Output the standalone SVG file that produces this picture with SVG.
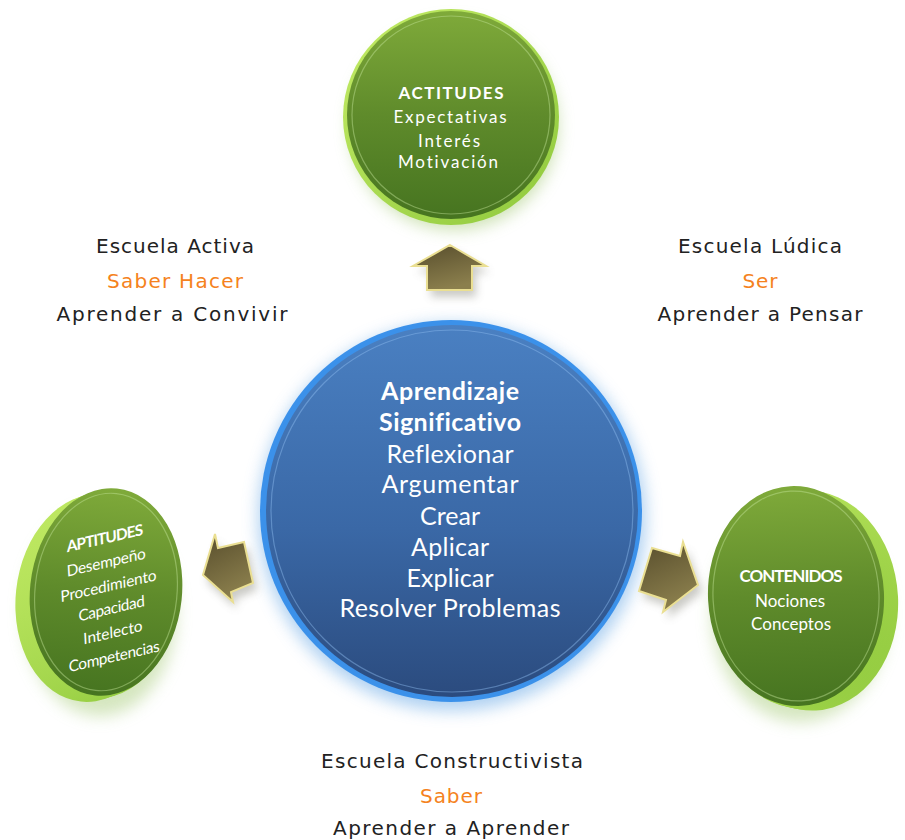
<svg xmlns="http://www.w3.org/2000/svg" width="905" height="840" viewBox="0 0 905 840">
  <defs>
    <linearGradient id="greenFace" x1="0" y1="0" x2="0" y2="1">
      <stop offset="0" stop-color="#7faa3a"/>
      <stop offset="0.5" stop-color="#5f8b2b"/>
      <stop offset="1" stop-color="#467420"/>
    </linearGradient>
    <linearGradient id="lime" x1="0" y1="0" x2="1" y2="1">
      <stop offset="0" stop-color="#c4ec66"/>
      <stop offset="1" stop-color="#8ec83c"/>
    </linearGradient>
    <linearGradient id="blueFace" x1="0" y1="0" x2="0" y2="1">
      <stop offset="0" stop-color="#4a80c2"/>
      <stop offset="0.55" stop-color="#3a68a6"/>
      <stop offset="1" stop-color="#2b4b7e"/>
    </linearGradient>
    <linearGradient id="arrowFill" x1="0" y1="0" x2="0.4" y2="1">
      <stop offset="0" stop-color="#574d2c"/>
      <stop offset="1" stop-color="#8b7f4d"/>
    </linearGradient>
    <filter id="soft" x="-30%" y="-30%" width="160%" height="160%">
      <feGaussianBlur stdDeviation="8"/>
    </filter>
    <filter id="softSmall" x="-40%" y="-40%" width="180%" height="180%">
      <feGaussianBlur stdDeviation="4"/>
    </filter>
    <style>
      .face { font-family: Lato, "Open Sans", sans-serif; fill: #ffffff; text-anchor: middle; font-variant-ligatures: none; font-feature-settings: "liga" 0, "clig" 0; }
      .bold { font-weight: bold; }
      .side { font-family: "DejaVu Sans", Verdana, sans-serif; font-size: 20px; fill: #222222; text-anchor: middle; }
      .accent { fill: #f58220; }
      .arrow { fill: url(#arrowFill); stroke: #eadf92; stroke-width: 2; stroke-linejoin: miter; }
      .arrowShadow { fill: #8a8a80; opacity: 0.45; }
      .innerRing { fill: none; stroke: #c4e49a; stroke-opacity: 0.45; stroke-width: 1.2; }
    </style>
  </defs>

  <rect width="905" height="840" fill="#ffffff"/>

  <!-- top node: Actitudes -->
  <g id="actitudes">
    <circle cx="454" cy="126" r="104" fill="#b9d696" opacity="0.7" filter="url(#soft)"/>
    <circle cx="451" cy="117" r="108" fill="url(#lime)"/>
    <circle cx="451" cy="115" r="104" fill="url(#greenFace)"/>
    <circle cx="451" cy="115" r="99" class="innerRing"/>
    <text class="face bold" x="451" y="99" font-size="17" textLength="105" lengthAdjust="spacing">ACTITUDES</text>
    <text class="face" x="450" y="123" font-size="17" textLength="113" lengthAdjust="spacing">Expectativas</text>
    <text class="face" x="449" y="147" font-size="17" textLength="62" lengthAdjust="spacing">Interés</text>
    <text class="face" x="448" y="168" font-size="17" textLength="100" lengthAdjust="spacing">Motivación</text>
  </g>

  <!-- centre node: Aprendizaje Significativo -->
  <g id="aprendizaje">
    <circle cx="452" cy="517" r="194" fill="#9cc6ee" opacity="0.8" filter="url(#soft)"/>
    <circle cx="451" cy="511" r="191" fill="#3b91ea"/>
    <circle cx="452" cy="511" r="186" fill="url(#blueFace)"/>
    <circle cx="452" cy="511" r="181" fill="none" stroke="#8fbdf0" stroke-opacity="0.45" stroke-width="1.2"/>
    <text class="face bold" x="450" y="400" font-size="25" textLength="138" lengthAdjust="spacing">Aprendizaje</text>
    <text class="face bold" x="450" y="431" font-size="25" textLength="142" lengthAdjust="spacing">Significativo</text>
    <text class="face" x="450" y="463" font-size="25" textLength="127" lengthAdjust="spacing">Reflexionar</text>
    <text class="face" x="450" y="493" font-size="25" textLength="137" lengthAdjust="spacing">Argumentar</text>
    <text class="face" x="450" y="525" font-size="25" textLength="60" lengthAdjust="spacing">Crear</text>
    <text class="face" x="450" y="556" font-size="25" textLength="78" lengthAdjust="spacing">Aplicar</text>
    <text class="face" x="450" y="587" font-size="25" textLength="87" lengthAdjust="spacing">Explicar</text>
    <text class="face" x="450" y="617" font-size="25" textLength="221" lengthAdjust="spacing">Resolver Problemas</text>
  </g>

  <!-- left node: Aptitudes (disc seen at an angle) -->
  <g id="aptitudes">
    <ellipse cx="100" cy="612" rx="76" ry="104" fill="#c3dca4" opacity="0.7" filter="url(#soft)"/>
    <g fill="url(#lime)" transform="rotate(6 100 596)">
      <ellipse cx="92" cy="599" rx="76" ry="104"/>
      <ellipse cx="96" cy="597" rx="76" ry="104"/>
      <ellipse cx="100" cy="595" rx="76" ry="104"/>
      <ellipse cx="103" cy="594" rx="76" ry="104"/>
    </g>
    <ellipse cx="106" cy="592" rx="76" ry="104" fill="url(#greenFace)" transform="rotate(6 106 592)"/>
    <ellipse cx="106" cy="592" rx="71" ry="99" class="innerRing" transform="rotate(6 106 592)"/>
    <g transform="translate(110 597) rotate(-3) skewY(-10)">
      <text class="face bold" x="-2" y="-54" font-size="15.5" textLength="77" lengthAdjust="spacing">APTITUDES</text>
      <text class="face" x="-2" y="-30" font-size="15.5" textLength="80" lengthAdjust="spacing">Desempeño</text>
      <text class="face" x="-1" y="-6" font-size="15.5" textLength="97" lengthAdjust="spacing">Procedimiento</text>
      <text class="face" x="1" y="17" font-size="15.5" textLength="67" lengthAdjust="spacing">Capacidad</text>
      <text class="face" x="1" y="41" font-size="15.5" textLength="60" lengthAdjust="spacing">Intelecto</text>
      <text class="face" x="1" y="65" font-size="15.5" textLength="92" lengthAdjust="spacing">Competencias</text>
    </g>
  </g>

  <!-- right node: Contenidos (disc seen at an angle) -->
  <g id="contenidos">
    <ellipse cx="800" cy="614" rx="88" ry="108" fill="#c3dca4" opacity="0.7" filter="url(#soft)"/>
    <g fill="url(#lime)" transform="rotate(-3 803 599)">
      <ellipse cx="810" cy="601" rx="88" ry="110"/>
      <ellipse cx="806" cy="600" rx="88" ry="110"/>
      <ellipse cx="802" cy="599" rx="88" ry="110"/>
      <ellipse cx="799" cy="598" rx="88" ry="110"/>
    </g>
    <ellipse cx="796" cy="596" rx="88" ry="110" fill="url(#greenFace)" transform="rotate(-3 796 596)"/>
    <ellipse cx="796" cy="596" rx="83" ry="105" class="innerRing" transform="rotate(-3 796 596)"/>
    <text class="face bold" x="791" y="582" font-size="17" textLength="103" lengthAdjust="spacing">CONTENIDOS</text>
    <text class="face" x="790" y="607" font-size="17" textLength="70" lengthAdjust="spacing">Nociones</text>
    <text class="face" x="791" y="630" font-size="17" textLength="80" lengthAdjust="spacing">Conceptos</text>
  </g>

  <!-- connectors: block arrows leaving the centre node -->
  <g id="connectors">
    <polygon class="arrowShadow" filter="url(#softSmall)" points="454,252 490,273 476,273 476,297 431,297 431,273 417,273"/>
    <polygon class="arrow" points="450,245 486,266 472,266 472,290 427,290 427,266 413,266"/>

    <polygon class="arrowShadow" filter="url(#softSmall)" points="219,541 222,555 248,549 257,590 235,599 237,609 207,582"/>
    <polygon class="arrow" points="215,534 218,548 244,542 253,583 231,592 233,602 203,575"/>

    <polygon class="arrowShadow" filter="url(#softSmall)" points="656,555 684,563 687,549 702,592 667,619 670,607 643,598"/>
    <polygon class="arrow" points="652,548 680,556 683,542 698,585 663,612 666,600 639,591"/>
  </g>

  <!-- school labels -->
  <g id="label-activa">
    <text class="side" x="175" y="253" textLength="158" lengthAdjust="spacing">Escuela Activa</text>
    <text class="side accent" x="175" y="288" textLength="136" lengthAdjust="spacing">Saber Hacer</text>
    <text class="side" x="172" y="321" textLength="231" lengthAdjust="spacing">Aprender a Convivir</text>
  </g>
  <g id="label-ludica">
    <text class="side" x="760" y="253" textLength="164" lengthAdjust="spacing">Escuela Lúdica</text>
    <text class="side accent" x="760" y="288" textLength="35" lengthAdjust="spacing">Ser</text>
    <text class="side" x="760" y="321" textLength="205" lengthAdjust="spacing">Aprender a Pensar</text>
  </g>
  <g id="label-constructivista">
    <text class="side" x="452" y="768" textLength="262" lengthAdjust="spacing">Escuela Constructivista</text>
    <text class="side accent" x="451" y="803" textLength="62" lengthAdjust="spacing">Saber</text>
    <text class="side" x="451" y="835" textLength="236" lengthAdjust="spacing">Aprender a Aprender</text>
  </g>
</svg>
